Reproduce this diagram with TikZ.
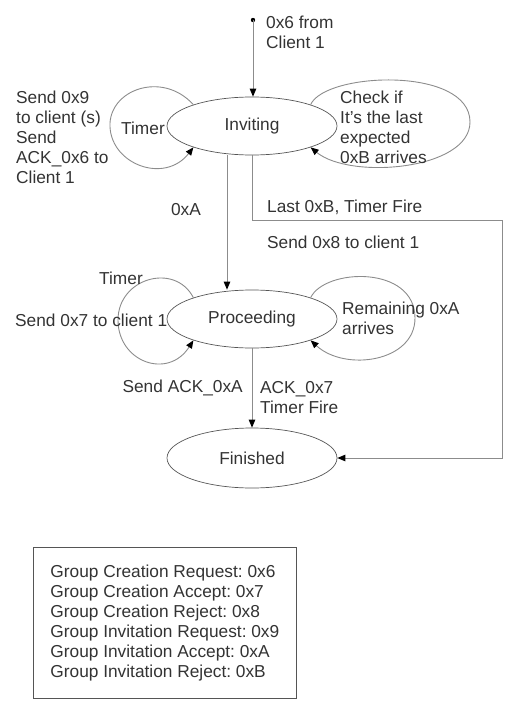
\documentclass[tikz,border=0pt]{standalone}
\usepackage{fontspec}
\setmainfont{Liberation Sans}
\usetikzlibrary{shapes.geometric,arrows.meta}
\definecolor{linegray}{HTML}{8C8C8C}
\definecolor{edgegray}{HTML}{555555}
\definecolor{textgray}{HTML}{333333}
\frenchspacing

\begin{document}
\begin{tikzpicture}[x=1pt,y=-1pt,
  font=\fontsize{17.3}{20}\selectfont,text=textgray,
  state/.style={ellipse,draw=edgegray,line width=0.7pt,minimum width=170,minimum height=58,inner sep=0pt},
  trans/.style={draw=linegray,line width=0.9pt,-{Triangle[length=8pt,width=6.5pt,color=black]}},
  lbl/.style={inner sep=0pt,align=left}]
\useasboundingbox (0,0) rectangle (518,709);

% states
\node[state] (inviting) at (252,126) {Inviting};
\node[state] (proceeding) at (252,319) {Proceeding};
\node[state,minimum height=60] (finished) at (252,458) {Finished};

% entry
\coordinate (start) at (253,20);
\fill (start) circle (2.2);
\draw[trans] (start) -- (start |- inviting.north);
\node[lbl,anchor=west] (entrylbl) at (266,32) {0x6 from\\Client 1};

% Inviting self loops
\draw[trans] (inviting.160) .. controls (162,70) and (108,90) .. (110,127)
  .. controls (112,165) and (165,184) .. (inviting.200);
\node[lbl] (invtimer) at (143,128) {Timer};
\node[lbl,anchor=west] (invsend) at (16,137) {Send 0x9\\to client (s)\\Send\\ACK\_0x6 to\\Client 1};
\draw[trans] (inviting.20) .. controls (325,72) and (470,66) .. (470,122)
  .. controls (470,170) and (350,180) .. (inviting.-20);
\node[lbl,anchor=west] (invcheck) at (340,127) {Check if\\It's the last\\expected\\0xB arrives};

% Inviting -> Proceeding
\draw[trans] ([xshift=-25pt]inviting.south) -- ([xshift=-25pt]proceeding.north);
\node[lbl] (acclbl) at (186,210) {0xA};

% Inviting -> Finished (reject)
\coordinate (turn) at (502,220);
\draw[trans] (inviting.south) |- (turn) |- (finished.east);
\node[lbl,anchor=west] (rejlbl) at (267,207) {Last 0xB, Timer Fire};
\node[lbl,anchor=west] (rejsend) at (267,242) {Send 0x8 to client 1};

% Proceeding self loops
\draw[trans] (proceeding.160) .. controls (175,262) and (118,278) .. (118,320)
  .. controls (118,362) and (168,380) .. (proceeding.200);
\node[lbl] (protimer) at (121,278) {Timer};
\node[lbl,anchor=west] (prosend) at (15,320) {Send 0x7 to client 1};
\draw[trans] (proceeding.20) .. controls (325,268) and (415,265) .. (415,318)
  .. controls (415,362) and (345,372) .. (proceeding.-20);
\node[lbl,anchor=west] (proremain) at (342,318) {Remaining 0xA\\arrives};

% Proceeding -> Finished
\draw[trans] (proceeding.south) -- (finished.north);
\node[lbl,anchor=east] (finsend) at (243,388) {Send ACK\_0xA};
\node[lbl,anchor=west] (finlbl) at (260,398) {ACK\_0x7\\Timer Fire};

% legend
\node[lbl,draw=edgegray,line width=0.7pt,minimum width=263,minimum height=151,anchor=north west] (legend) at (33,547)
  {Group Creation Request: 0x6\\Group Creation Accept: 0x7\\Group Creation Reject: 0x8\\
   Group Invitation Request: 0x9\\Group Invitation Accept: 0xA\\Group Invitation Reject: 0xB};
\end{tikzpicture}
\end{document}
